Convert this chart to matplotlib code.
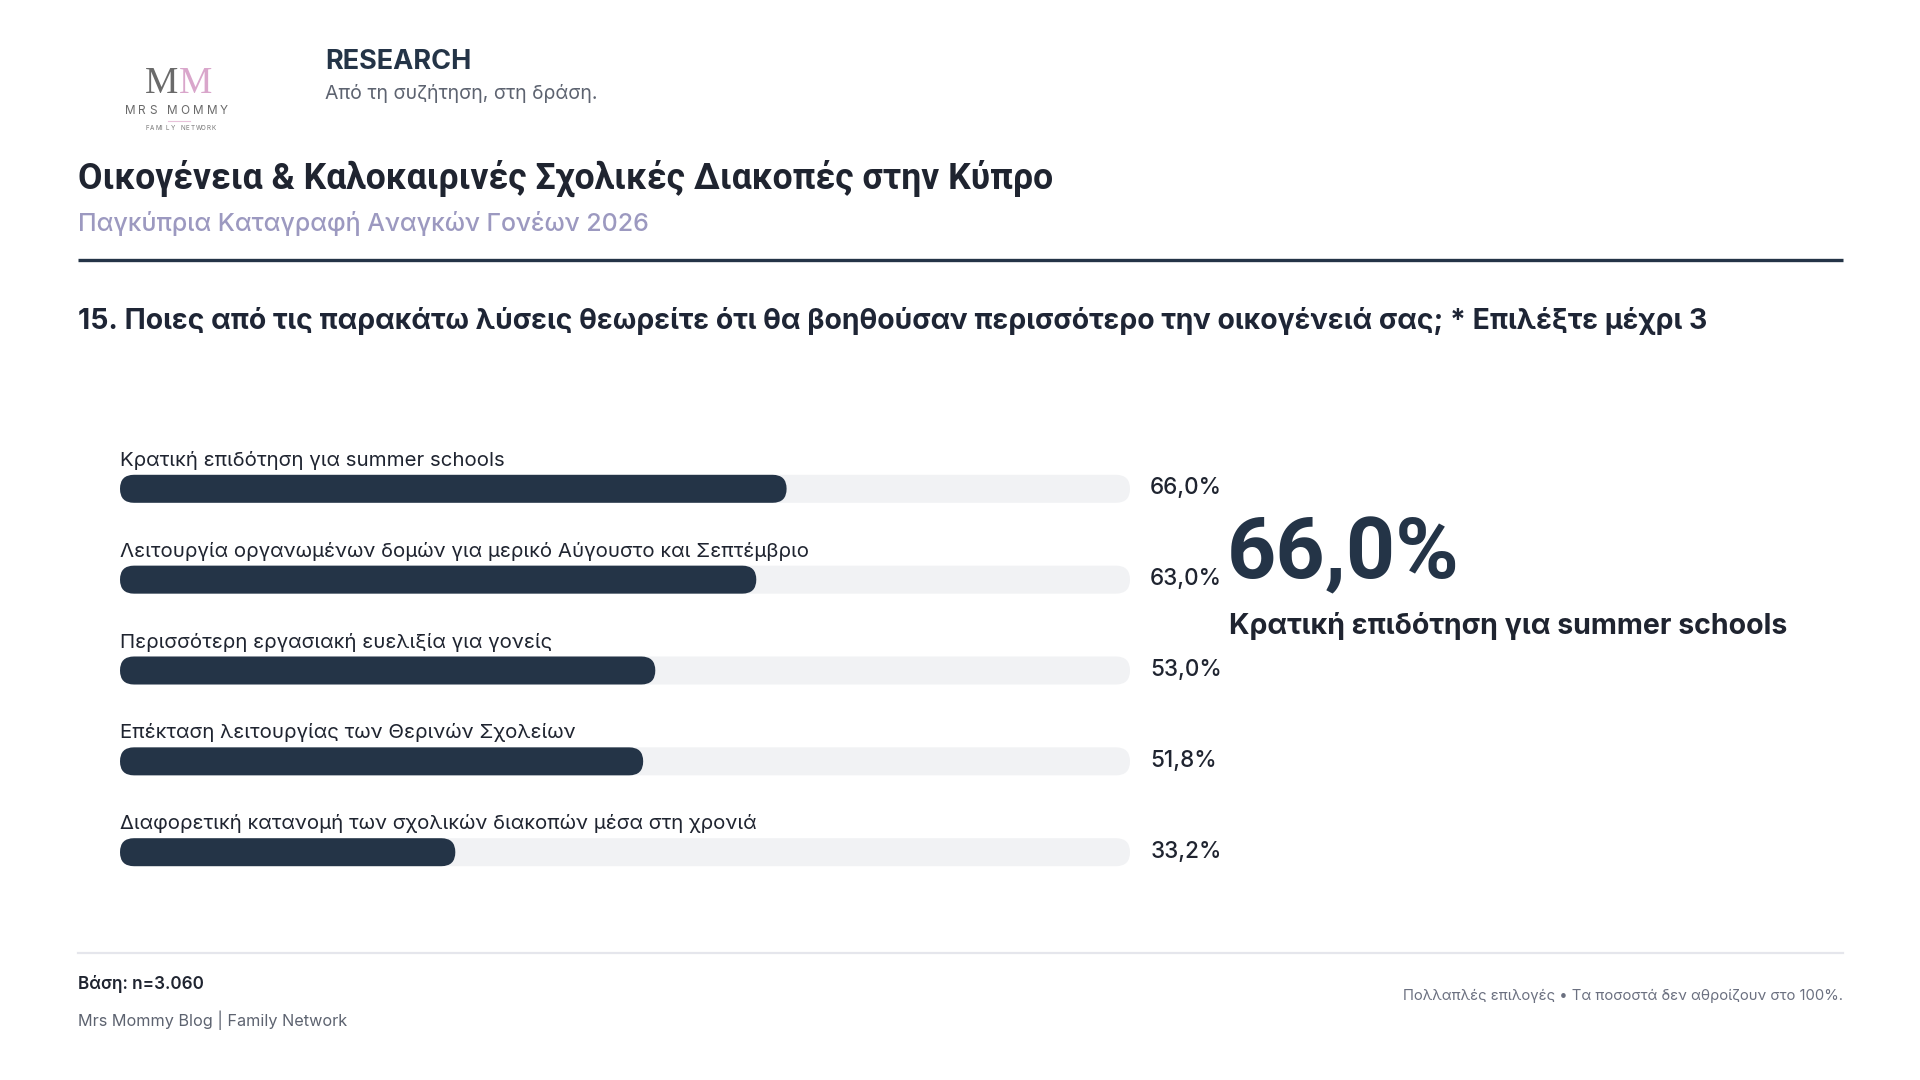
import matplotlib
matplotlib.use("Agg")
import matplotlib.pyplot as plt
from matplotlib.patches import FancyBboxPatch

plt.rcParams["font.family"] = ["Inter", "DejaVu Sans"]

# data
categories = [
    "Κρατική επιδότηση για summer schools",
    "Λειτουργία οργανωμένων δομών για μερικό Αύγουστο και Σεπτέμβριο",
    "Περισσότερη εργασιακή ευελιξία για γονείς",
    "Επέκταση λειτουργίας των Θερινών Σχολείων",
    "Διαφορετική κατανομή των σχολικών διακοπών μέσα στη χρονιά",
]
values = [66.0, 63.0, 53.0, 51.8, 33.2]

title = "Οικογένεια & Καλοκαιρινές Σχολικές Διακοπές στην Κύπρο"
subtitle = "Παγκύπρια Καταγραφή Αναγκών Γονέων 2026"
question = ("15. Ποιες από τις παρακάτω λύσεις θεωρείτε ότι θα βοηθούσαν "
            "περισσότερο την οικογένειά σας; * Επιλέξτε μέχρι 3")
base_note = "Βάση: n=3.060"
source_note = "Mrs Mommy Blog | Family Network"
multi_note = "Πολλαπλές επιλογές • Τα ποσοστά δεν αθροίζουν στο 100%."

NAVY = "#243447"
INK = "#1f2430"
TRACK = "#f1f2f4"
GREY = "#5d6370"
LAVENDER = "#9c99c0"
PINK = "#d9a6cb"


def pct(v):
    return f"{v:.1f}%".replace(".", ",")


W, H = 1920, 1080
fig = plt.figure(figsize=(W / 100, H / 100), dpi=100)
fig.patch.set_facecolor("white")

# full-figure axes in pixel coordinates for the page furniture
bg = fig.add_axes([0, 0, 1, 1])
bg.set_xlim(0, W)
bg.set_ylim(H, 0)
bg.axis("off")

# logo
bg.text(145, 93, "M", fontsize=27, family="Liberation Serif", color="#6a6a6a", va="baseline")
bg.text(179, 93, "M", fontsize=27, family="Liberation Serif", color=PINK, va="baseline")
advance = {"M": 13, "R": 11.5, "S": 11, " ": 7, "O": 13, "Y": 9}
xpos = 125
for ch in "MRS MOMMY":
    if ch != " ":
        bg.text(xpos, 114, ch, fontsize=8.5, color="#6a6a6a", va="baseline")
    xpos += advance[ch]
bg.plot([168, 190], [121, 121], color="#e8c2da", lw=0.8)
for i, ch in enumerate("FAMILY NETWORK"):
    bg.text(145 + i * 5.1, 130, ch, fontsize=4.5, color="#777777", va="baseline")

bg.text(325, 69, "RESEARCH", fontsize=19.5, fontweight="bold", color=NAVY, va="baseline")
bg.text(325, 99, "Από τη συζήτηση, στη δράση.", fontsize=14, color=GREY, va="baseline")

bg.text(78, 189, title, fontsize=25.6, fontweight="bold", family="Roboto", color=INK, va="baseline")
bg.text(78, 231.5, subtitle, fontsize=18, fontweight="medium", color=LAVENDER, va="baseline")
bg.plot([78, 1843], [260, 260], color=NAVY, lw=2.4, solid_capstyle="butt")

bg.text(78, 329, question, fontsize=20.4, fontweight="bold", color="#1e2535", va="baseline")

# highlight of the top answer
top = max(range(len(values)), key=lambda k: values[k])
bg.text(1227, 578, pct(values[top]), fontsize=62, fontweight="bold", family="Roboto",
        color=NAVY, va="baseline")
bg.text(1229, 634, categories[top], fontsize=20.5, fontweight="bold", color=INK, va="baseline")

# footer
bg.plot([78, 1843], [953, 953], color="#e5e6ec", lw=1.6)
bg.text(78, 989, base_note, fontsize=12.3, fontweight="semibold", color=INK, va="baseline")
bg.text(78, 1026, source_note, fontsize=11.7, color=GREY, va="baseline")
bg.text(1843, 1000, multi_note, fontsize=10.7, color="#6b7080", va="baseline", ha="right")

# bar panel: track = 100 %
x0_px, x1_px = 120, 1130
row_px = 90.85
first_center = 488.8
n = len(categories)
top_px = first_center - row_px / 2
bottom_px = top_px + n * row_px
ax = fig.add_axes([x0_px / W, 1 - bottom_px / H, (x1_px - x0_px) / W, (bottom_px - top_px) / H])
ax.set_xlim(0, 100)
ax.set_ylim(n - 0.5, -0.5)
ax.axis("off")

bar_h_px = 28
x_per_px = 100 / (x1_px - x0_px)
y_per_px = 1 / row_px
bar_h = bar_h_px * y_per_px
r = (bar_h_px / 2) * x_per_px
aspect = y_per_px / x_per_px

for i, (cat, val) in enumerate(zip(categories, values)):
    for width, color in ((100, TRACK), (val, NAVY)):
        ax.add_patch(FancyBboxPatch((0, i - bar_h / 2), width, bar_h,
                                    boxstyle=f"round,pad=0,rounding_size={r}",
                                    mutation_aspect=aspect, facecolor=color,
                                    edgecolor="none", clip_on=False))
    ax.text(0, i - 23 * y_per_px, cat, fontsize=14.7, color=INK, va="baseline", clip_on=False)
    ax.text(102, i + 5.5 * y_per_px, pct(val), fontsize=16.2,
            fontweight="medium", color=INK, va="baseline", clip_on=False)

fig.savefig("out.png", dpi=100, facecolor="white")
